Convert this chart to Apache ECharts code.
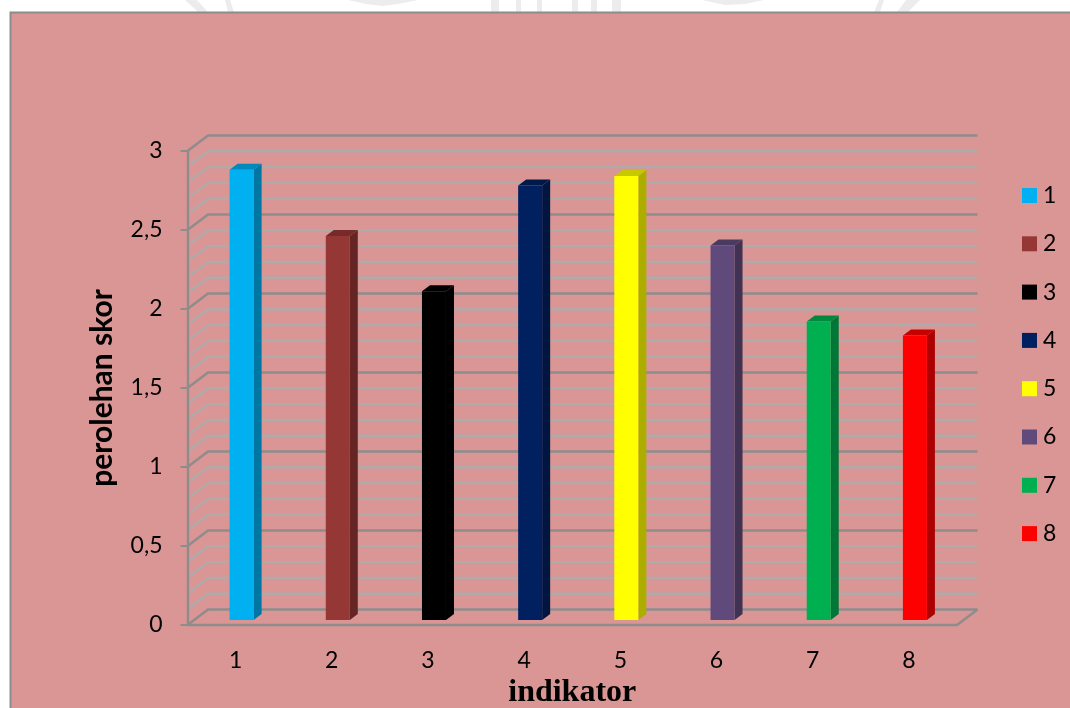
<!DOCTYPE html>
<html>
<head>
<meta charset="utf-8">
<style>
html, body { margin: 0; padding: 0; background: #fff; }
#chart { width: 1070px; height: 708px; }
</style>
<script src="https://cdn.jsdelivr.net/npm/echarts@6/dist/echarts.min.js"></script>
</head>
<body>
<div id="chart"></div>
<script>
// Skor per indikator
const categories = ['1', '2', '3', '4', '5', '6', '7', '8'];
const scores = [2.85, 2.43, 2.08, 2.75, 2.81, 2.37, 1.89, 1.80];
const barColors = ['#00B0F0', '#953735', '#000000', '#002060', '#FFFF00', '#604A7B', '#00B050', '#FF0000'];
const sideColors = ['#0077A3', '#652524', '#000000', '#001540', '#ADAD00', '#413253', '#007736', '#AD0000'];
const topColors = ['#0089BC', '#742B29', '#000000', '#00194B', '#C8C800', '#4B3A60', '#00893E', '#C80000'];
const majorLevels = [0, 0.5, 1, 1.5, 2, 2.5, 3];
const minorLevels = [0.1, 0.2, 0.3, 0.4, 0.6, 0.7, 0.8, 0.9, 1.1, 1.2, 1.3, 1.4,
  1.6, 1.7, 1.8, 1.9, 2.1, 2.2, 2.3, 2.4, 2.6, 2.7, 2.8, 2.9];

const grid = { left: 187.5, top: 151, width: 769.5, height: 474, outerBoundsMode: 'none' };
// Depth of the box drawn behind the plot plane
const wallDx = 20.5, wallDy = -15.5;
// Bars stand part way into the floor
const barShiftX = 6, barShiftY = -5, barWidth = 24, barDx = 8, barDy = -6;

const majorColor = '#8E8C8C', minorColor = '#B0AAAA';
const inkFont = 'Lato';

// One gridline: a slanted run up the side wall, then along the back wall
function renderWallLine(color) {
  return function (params, api) {
    const p = api.coord([0, api.value(0)]);
    const x0 = grid.left, y0 = p[1];
    const x1 = x0 + wallDx, y1 = y0 + wallDy;
    const x2 = grid.left + grid.width + wallDx;
    return {
      type: 'polyline',
      silent: true,
      shape: { points: [[x0, y0], [x1, y1], [x2, y1]] },
      style: { fill: null, stroke: color, lineWidth: 2.4 }
    };
  };
}

// Right edge of the floor
function renderFloorEdge(params, api) {
  const y0 = api.coord([0, 0])[1];
  const x0 = grid.left + grid.width;
  return {
    type: 'line',
    silent: true,
    shape: { x1: x0, y1: y0, x2: x0 + wallDx, y2: y0 + wallDy },
    style: { stroke: majorColor, lineWidth: 2.4 }
  };
}

// Prism bar: front, side and top faces
function renderBar(index) {
  return function (params, api) {
    const top = api.coord([api.value(0), api.value(1)]);
    const base = api.coord([api.value(0), 0]);
    const xl = top[0] - barWidth / 2 + barShiftX;
    const xr = xl + barWidth;
    const yt = top[1] + barShiftY;
    const yb = base[1] + barShiftY;
    return {
      type: 'group',
      children: [
        { type: 'polygon', shape: { points: [[xr, yt], [xr + barDx, yt + barDy], [xr + barDx, yb + barDy], [xr, yb]] },
          style: { fill: sideColors[index] } },
        { type: 'polygon', shape: { points: [[xl, yt], [xl + barDx, yt + barDy], [xr + barDx, yt + barDy], [xr, yt]] },
          style: { fill: topColors[index] } },
        { type: 'rect', shape: { x: xl, y: yt, width: barWidth, height: yb - yt },
          style: { fill: barColors[index] } }
      ]
    };
  };
}

const barSeries = categories.map((name, i) => ({
  name: name,
  type: 'custom',
  coordinateSystem: 'cartesian2d',
  renderItem: renderBar(i),
  itemStyle: { color: barColors[i] },
  encode: { x: 0, y: 1 },
  data: [[i, scores[i]]],
  z: 5
}));

// Faint page marks showing above the panel
const pageMark = '#ECECEC';
function markBar(x, width) {
  return { type: 'rect', z: -20, silent: true, shape: { x: x, y: 0, width: width, height: 12 }, style: { fill: pageMark } };
}
function markPoly(points) {
  return { type: 'polygon', z: -20, silent: true, shape: { points: points }, style: { fill: pageMark } };
}

const chart = echarts.init(document.getElementById('chart'), null, { renderer: 'canvas' });
chart.setOption({
  animation: false,
  backgroundColor: '#FFFFFF',
  textStyle: { fontFamily: inkFont },
  graphic: [
    markPoly([[185, 0], [197, 0], [208, 12], [198, 12]]),
    markPoly([[225, 0], [230, 0], [234, 12], [228, 12]]),
    markPoly([[348, 0], [418, 0], [398, 4], [382, 6], [366, 4]]),
    markBar(491, 8), markBar(516, 5), markBar(537, 5), markBar(572, 6), markBar(591, 6), markBar(612, 9),
    markPoly([[702, 0], [764, 0], [745, 4], [725, 5]]),
    markPoly([[874, 12], [879, 0], [884, 0], [880, 12]]),
    markPoly([[897, 12], [906, 0], [920, 0], [908, 12]]),
    {
      type: 'rect',
      z: -10,
      silent: true,
      shape: { x: 10.5, y: 12.5, width: 1070, height: 708 },
      style: { fill: '#DA9694', stroke: '#8C8C8C', lineWidth: 2 }
    }
  ],
  grid: grid,
  legend: {
    orient: 'vertical',
    left: 1017,
    top: 179,
    itemWidth: 15,
    itemHeight: 15,
    itemGap: 25.3,
    icon: 'rect',
    data: categories,
    selectedMode: false,
    textStyle: { fontFamily: inkFont, fontSize: 23, color: '#000', padding: [0, 0, 0, 1], lineHeight: 21 }
  },
  xAxis: {
    type: 'category',
    z: 3,
    data: categories,
    name: 'indikator',
    nameLocation: 'middle',
    nameGap: 48,
    nameTextStyle: { fontFamily: 'Liberation Serif', fontWeight: 'bold', fontSize: 32, color: '#000' },
    axisLine: { show: true, lineStyle: { color: majorColor, width: 2.4 } },
    axisTick: { show: false },
    axisLabel: { fontFamily: inkFont, fontSize: 23, color: '#000', margin: 24 },
    splitLine: { show: false }
  },
  yAxis: {
    type: 'value',
    z: 3,
    min: 0,
    max: 3,
    interval: 0.5,
    name: 'perolehan skor',
    nameLocation: 'middle',
    nameGap: 70,
    nameTextStyle: { fontFamily: inkFont, fontWeight: 'bold', fontSize: 30, color: '#000' },
    axisLine: { show: true, lineStyle: { color: majorColor, width: 2.4 } },
    axisTick: { show: true, length: 7, lineStyle: { color: majorColor, width: 2 } },
    axisLabel: {
      fontFamily: inkFont, fontSize: 23, color: '#000', margin: 25, padding: [4, 0, 0, 0],
      formatter: v => String(v).replace('.', ',')
    },
    splitLine: { show: false }
  },
  series: [
    {
      type: 'custom', coordinateSystem: 'cartesian2d', silent: true, z: 1,
      renderItem: renderWallLine(minorColor), encode: { y: 0 },
      data: minorLevels.map(v => [v])
    },
    {
      type: 'custom', coordinateSystem: 'cartesian2d', silent: true, z: 2,
      renderItem: renderWallLine(majorColor), encode: { y: 0 },
      data: majorLevels.map(v => [v])
    },
    {
      type: 'custom', coordinateSystem: 'cartesian2d', silent: true, z: 2,
      renderItem: renderFloorEdge, encode: { y: 0 },
      data: [[0]]
    }
  ].concat(barSeries)
});
</script>
</body>
</html>
